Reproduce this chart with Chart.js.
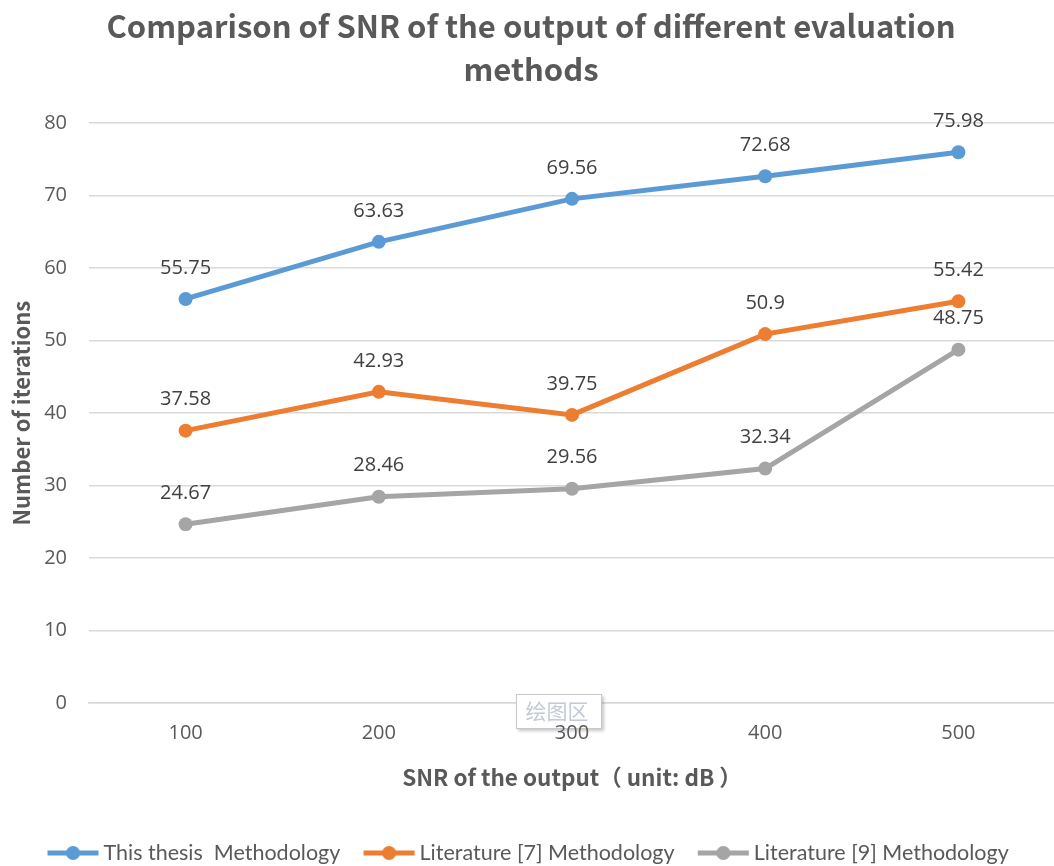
<!DOCTYPE html>
<html><head><meta charset="utf-8">
<script src="https://cdn.jsdelivr.net/npm/chart.js@4/dist/chart.umd.min.js"></script>
<style>html,body{margin:0;padding:0;background:#fff;overflow:hidden;}#wrap{position:relative;width:1054px;height:866px;overflow:hidden;}</style>
</head><body><div id="wrap"><canvas id="c" width="1062" height="866"></canvas></div>
<script>
const categories = ['100','200','300','400','500'];
const thisThesis = [55.75, 63.63, 69.56, 72.68, 75.98];
const lit7 = [37.58, 42.93, 39.75, 50.9, 55.42];
const lit9 = [24.67, 28.46, 29.56, 32.34, 48.75];
const seriesNames = ['This thesis  Methodology', 'Literature [7] Methodology', 'Literature [9] Methodology'];
const colors = ['#5B9BD5', '#ED7D31', '#A5A5A5'];
const overlayText = '绘图区';

function legendIcon(color){
  const cv = document.createElement('canvas'); cv.width = 53; cv.height = 16;
  const x = cv.getContext('2d');
  x.strokeStyle = color; x.lineWidth = 5; x.beginPath(); x.moveTo(1,8); x.lineTo(52,8); x.stroke();
  x.fillStyle = color; x.beginPath(); x.arc(26.5,8,7,0,Math.PI*2); x.fill();
  return cv;
}

const labelPlugin = {
  id: 'valueLabels',
  afterDatasetsDraw(chart){
    const ctx = chart.ctx;
    ctx.save();
    ctx.font = '20px "Open Sans", "DejaVu Sans", sans-serif';
    ctx.fillStyle = '#404040'; ctx.textAlign = 'center'; ctx.textBaseline = 'middle';
    chart.data.datasets.forEach((ds, i) => {
      chart.getDatasetMeta(i).data.forEach((pt, j) => {
        ctx.fillText(String(ds.data[j]), pt.x, pt.y - 31);
      });
    });
    // Excel "plot area" hover tooltip
    const bx = 516, by = 694, bw = 86, bh = 35;
    ctx.shadowColor = 'rgba(0,0,0,0.22)'; ctx.shadowBlur = 3; ctx.shadowOffsetX = 2; ctx.shadowOffsetY = 2;
    ctx.fillStyle = '#ffffff'; ctx.fillRect(bx, by, bw, bh);
    ctx.shadowColor = 'transparent';
    ctx.strokeStyle = '#C8C8C8'; ctx.lineWidth = 1; ctx.strokeRect(bx+0.5, by+0.5, bw-1, bh-1);
    ctx.font = '21px "Noto Sans CJK SC", sans-serif'; ctx.fillStyle = '#C3CAD4';
    ctx.fillText(overlayText, bx + bw/2 - 2, by + 17);
    ctx.restore();
  }
};

new Chart(document.getElementById('c'), {
  type: 'line',
  data: {
    labels: categories,
    datasets: [thisThesis, lit7, lit9].map((d, i) => ({
      label: seriesNames[i], data: d,
      borderColor: colors[i], backgroundColor: colors[i],
      pointBackgroundColor: colors[i], pointBorderColor: colors[i],
      borderWidth: 5, pointRadius: 7, pointHoverRadius: 7, pointBorderWidth: 0, tension: 0
    }))
  },
  options: {
    responsive: false, animation: false,
    layout: { padding: { left: 0, right: 0, top: 5, bottom: -7.75 } },
    plugins: {
      tooltip: { enabled: false },
      title: {
        display: true,
        text: ['Comparison of SNR of the output of different evaluation', 'methods'],
        color: '#595959',
        font: { family: '"Noto Sans CJK SC", "Noto Sans", sans-serif', size: 31, weight: 'bold', lineHeight: 1.39 },
        padding: { top: 0, bottom: 32 }
      },
      legend: {
        position: 'bottom',
        labels: {
          color: '#595959',
          font: { family: 'Lato, "Liberation Sans Narrow", sans-serif', size: 21.5 },
          usePointStyle: true, pointStyleWidth: 39.5, padding: 29,
          generateLabels(chart){
            return chart.data.datasets.map((ds, i) => ({
              text: ds.label, pointStyle: legendIcon(colors[i]), fillStyle: colors[i],
              strokeStyle: colors[i], lineWidth: 0, datasetIndex: i, hidden: false, fontColor: '#595959'
            }));
          }
        }
      }
    },
    scales: {
      x: {
        offset: true,
        afterFit(scale){ scale.height = 110.25; },
        grid: { display: false, drawTicks: false },
        border: { display: true, color: '#D9D9D9', width: 1.5 },
        ticks: { z: 1, color: '#595959', font: { family: '"Open Sans", sans-serif', size: 20 }, padding: 18 },
        title: { display: true, text: 'SNR of the output（ unit: dB ）', color: '#595959',
          font: { family: '"Noto Sans CJK SC", "Open Sans", sans-serif', size: 22.5, weight: 'bold' }, padding: { top: 20, bottom: 22 } }
      },
      y: {
        min: 0, max: 80,
        afterFit(scale){ scale.width = 89; },
        ticks: { stepSize: 10, color: '#595959', font: { family: '"Open Sans", sans-serif', size: 20 }, padding: 22 },
        grid: { color: '#D9D9D9', lineWidth: 1.5, drawTicks: false },
        border: { display: false },
        title: { display: true, text: 'Number of iterations', color: '#595959',
          font: { family: '"Noto Sans CJK SC", "Open Sans", sans-serif', size: 22, weight: 'bold' }, padding: { top: 8, bottom: 4 } }
      }
    }
  },
  plugins: [labelPlugin]
});
</script></body></html>
